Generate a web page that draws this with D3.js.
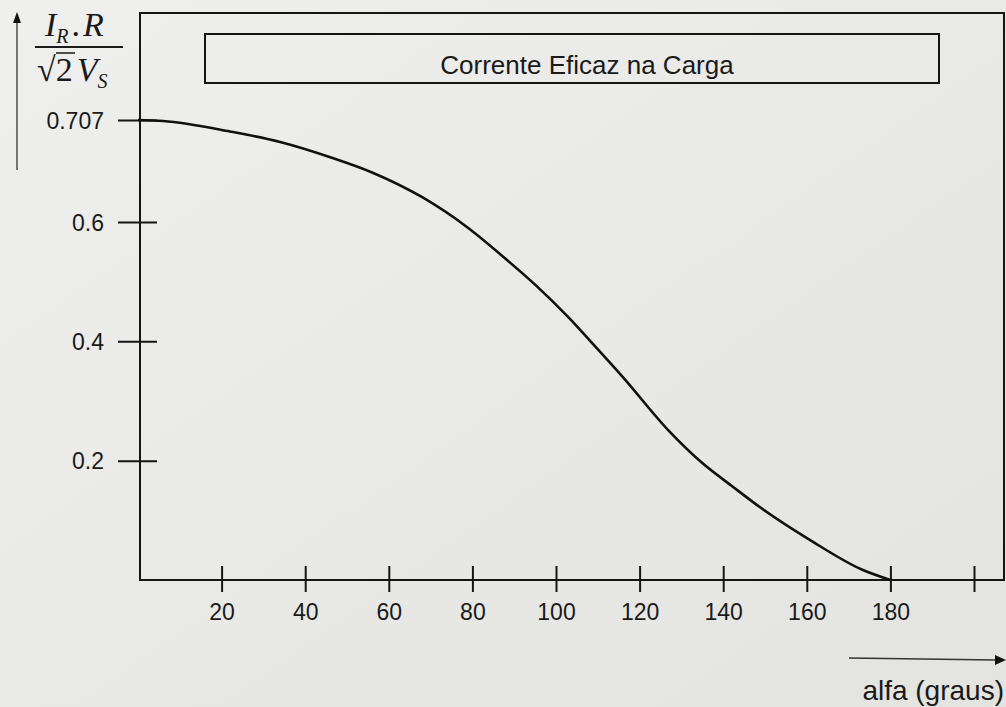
<!DOCTYPE html>
<html lang="pt">
<head>
    <meta charset="UTF-8">
    <title>Corrente Eficaz na Carga</title>
    <script src="https://d3js.org/d3.v7.min.js"></script>
    <style>
        body { margin: 0; background: #ebebe8; }
        svg { display: block; }
        .tick text { font-family: Arial, 'Liberation Sans', sans-serif; fill: #1a1a1a; }
        .frac { font-family: 'Liberation Serif', 'Times New Roman', serif; font-style: italic; fill: #1a1a1a; }
    </style>
</head>
<body>
<svg width="1006" height="707"></svg>
<script>
    // angulo de disparo (graus) e corrente normalizada
    const alfa = [0, 6, 22, 34, 46, 56, 68, 79, 88, 95, 103, 108, 116, 127, 135, 142, 149, 161, 173, 180];
    const corrente = [0.707, 0.706, 0.695, 0.684, 0.668, 0.652, 0.626, 0.590, 0.538, 0.495, 0.440, 0.402, 0.340, 0.250, 0.196, 0.158, 0.121, 0.066, 0.018, 0];

    const xTicks = [20, 40, 60, 80, 100, 120, 140, 160, 180, 200];
    const xTickLabels = ["20", "40", "60", "80", "100", "120", "140", "160", "180", ""];
    const yTicks = [0.2, 0.4, 0.6, 0.707];
    const yTickLabels = ["0.2", "0.4", "0.6", "0.707"];

    const titulo = "Corrente Eficaz na Carga";
    const eixoX = "alfa (graus)";

    const svg = d3.select("svg");

    // fundo de papel escaneado
    const defs = svg.append("defs");
    const grad = defs.append("linearGradient").attr("id", "papel")
        .attr("x1", "0").attr("y1", "0").attr("x2", "1").attr("y2", "1");
    grad.append("stop").attr("offset", "0").attr("stop-color", "#efefed");
    grad.append("stop").attr("offset", "1").attr("stop-color", "#e3e3e0");
    svg.append("rect").attr("width", 1006).attr("height", 707).attr("fill", "url(#papel)");

    const mLeft = 140, mRight = 1004, mTop = 13, mBottom = 580;

    const x = d3.scaleLinear().domain([0, 200]).range([138, 974]);
    // escala do eixo vertical: o 0.707 fica no topo da curva
    const y = d3.scaleLinear().domain([0, 0.6, 0.707]).range([mBottom, 222, 120]);

    // moldura
    svg.append("rect")
        .attr("x", mLeft).attr("y", mTop)
        .attr("width", mRight - mLeft).attr("height", mBottom - mTop)
        .attr("fill", "none").attr("stroke", "#151515").attr("stroke-width", 2);

    // legenda
    svg.append("rect")
        .attr("x", 205).attr("y", 34).attr("width", 734).attr("height", 49)
        .attr("fill", "none").attr("stroke", "#151515").attr("stroke-width", 2);
    svg.append("text")
        .attr("x", 587).attr("y", 74)
        .attr("text-anchor", "middle")
        .style("font-family", "Arial, 'Liberation Sans', sans-serif")
        .style("font-size", "26px")
        .attr("fill", "#1a1a1a")
        .text(titulo);

    // eixo x
    const gx = svg.append("g")
        .attr("transform", `translate(0,${mBottom})`)
        .call(d3.axisBottom(x).tickValues(xTicks).tickSize(0).tickPadding(0)
            .tickFormat((d, i) => xTickLabels[i]));
    gx.select(".domain").remove();
    gx.selectAll(".tick line")
        .attr("y1", -14).attr("y2", 12)
        .attr("stroke", "#151515").attr("stroke-width", 2);
    gx.selectAll(".tick text")
        .attr("y", 40).attr("dy", 0)
        .style("font-size", "23px");

    // eixo y
    const gy = svg.append("g")
        .attr("transform", `translate(${mLeft},0)`)
        .call(d3.axisLeft(y).tickValues(yTicks).tickSize(0).tickPadding(0)
            .tickFormat((d, i) => yTickLabels[i]));
    gy.select(".domain").remove();
    gy.selectAll(".tick line")
        .attr("x1", -22).attr("x2", 17)
        .attr("stroke", "#151515").attr("stroke-width", 2);
    gy.selectAll(".tick text")
        .attr("x", -36).attr("dy", "0.35em")
        .style("font-size", "23px");

    // curva
    const linha = d3.line()
        .x((d, i) => x(alfa[i]))
        .y(d => y(d))
        .curve(d3.curveMonotoneX);
    svg.append("path")
        .datum(corrente)
        .attr("d", linha)
        .attr("fill", "none")
        .attr("stroke", "#111")
        .attr("stroke-width", 2.6);

    // seta vertical
    svg.append("line").attr("x1", 17).attr("y1", 20).attr("x2", 17).attr("y2", 170)
        .attr("stroke", "#333").attr("stroke-width", 1.3);
    svg.append("path").attr("d", "M17,12 L13,23 L21,23 Z").attr("fill", "#111");

    // fracao do eixo y
    const frac = svg.append("g").attr("class", "frac");
    frac.append("text").attr("x", 45).attr("y", 36).style("font-size", "34px")
        .html('I<tspan dy="7" font-size="20px">R</tspan><tspan dx="3" dy="-7" font-style="normal">.</tspan><tspan dx="3">R</tspan>');
    svg.append("line").attr("x1", 35).attr("x2", 123).attr("y1", 47).attr("y2", 47)
        .attr("stroke", "#1a1a1a").attr("stroke-width", 2);
    frac.append("text").attr("x", 37).attr("y", 81).style("font-size", "34px")
        .html('<tspan font-style="normal">\u221A2</tspan><tspan dx="4">V</tspan><tspan dy="7" font-size="20px">S</tspan>');
    svg.append("line").attr("x1", 56).attr("x2", 75).attr("y1", 53).attr("y2", 53)
        .attr("stroke", "#1a1a1a").attr("stroke-width", 1.5);

    // seta horizontal
    svg.append("line").attr("x1", 849).attr("y1", 658).attr("x2", 996).attr("y2", 660)
        .attr("stroke", "#333").attr("stroke-width", 1.3);
    svg.append("path").attr("d", "M1006,660 L995,655 L995,665 Z").attr("fill", "#111");
    svg.append("text")
        .attr("x", 1004).attr("y", 700)
        .attr("text-anchor", "end")
        .style("font-family", "Arial, 'Liberation Sans', sans-serif")
        .style("font-size", "28px")
        .attr("fill", "#1a1a1a")
        .text(eixoX);
</script>
</body>
</html>
